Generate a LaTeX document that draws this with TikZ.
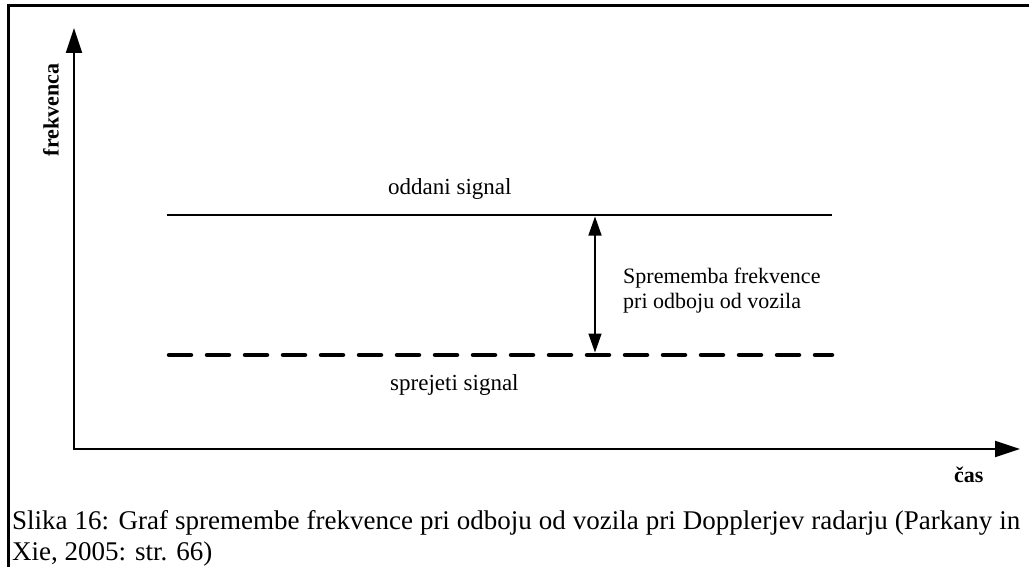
\documentclass[tikz,border=0pt]{standalone}
\usepackage{fontspec}
\setmainfont{Liberation Serif}
\usetikzlibrary{arrows.meta}
\begin{document}
\begin{tikzpicture}[x=1pt,y=-1pt,
  axis/.style={line width=2pt, {Triangle[length=25pt,width=16pt]}-{Triangle[length=25pt,width=16pt]}},
  sig/.style={line width=2.6pt},
  recv/.style={line width=4.5pt, dash pattern=on 22pt off 16pt, line cap=round},
  dim/.style={line width=1.5pt, {Triangle[length=19pt,width=13pt]}-{Triangle[length=19pt,width=13pt]}},
  lbl/.style={inner sep=0pt, font=\fontsize{23}{25}\selectfont},
  axlbl/.style={inner sep=0pt, font=\fontsize{22}{24}\selectfont\bfseries},
  frame/.style={line width=2.7pt}]
\useasboundingbox (0,0) rectangle (1029,567);
\draw[frame] (8.5,567) -- (8.5,5.3) -- (1029,5.3);
% axes
\coordinate (O) at (74,449);
\coordinate (ytip) at (74,28);
\coordinate (xtip) at (1020,449);
\draw[axis] (ytip) -- (O) -- (xtip);
% signals
\coordinate (s1) at (167,215);
\coordinate (s2) at (832,215);
\coordinate (r1) at (169,355);
\coordinate (r2) at (832,355);
\draw[sig] (s1) -- (s2);
\draw[recv] (r1) -- (r2);
% difference arrow
\coordinate (d1) at (595,216.5);
\coordinate (d2) at (595,352.5);
\draw[dim] (d1) -- (d2);
% labels
\node[lbl, anchor=base west] (odd) at (388,195) {oddani signal};
\node[lbl, anchor=base west] (spr) at (390,390) {sprejeti signal};
\node[lbl, anchor=base west, align=left, font=\fontsize{22}{25}\selectfont] (chg) at (623,308) {Sprememba frekvence\\pri odboju od vozila};
\node[axlbl, rotate=90] (fl) at (51,110) {frekvenca};
\node[axlbl, anchor=base west] (cas) at (954,482) {čas};
% caption
\node[inner sep=0pt, anchor=base west, text width=1008pt, align=justify,
  font=\fontsize{27}{31}\selectfont] (cap) at (12,529)
  {\hyphenpenalty10000 Slika 16: Graf spremembe frekvence pri odboju od vozila pri Dopplerjev radarju (Parkany in\linebreak Xie, 2005: str. 66)};
\end{tikzpicture}
\end{document}
